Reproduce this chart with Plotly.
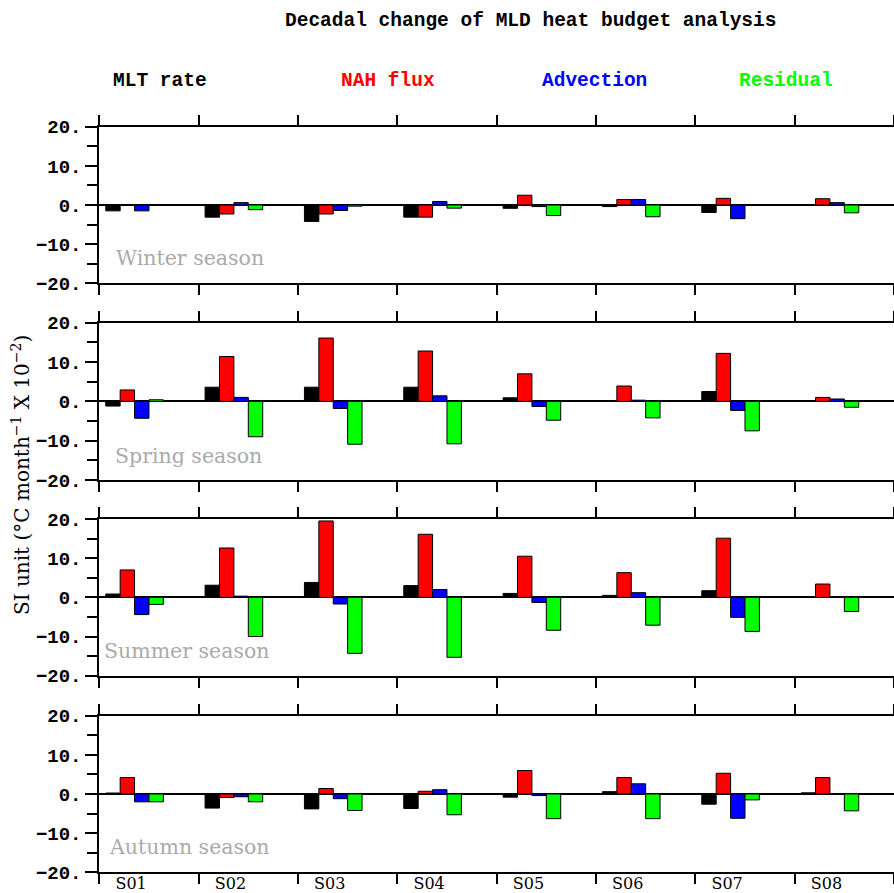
import numpy as np
import plotly.graph_objects as go

# ---------------- data ----------------
stations = ["S01", "S02", "S03", "S04", "S05", "S06", "S07", "S08"]
series_names = ["MLT rate", "NAH flux", "Advection", "Residual"]
series_colors = ["#000000", "#ff0000", "#0000ff", "#00ff00"]
seasons = ["Winter season", "Spring season", "Summer season", "Autumn season"]

winter_mlt = [-1.5, -3.1, -4.2, -3.1, -0.85, -0.4, -1.9, 0.0]
winter_nah = [0.0, -2.3, -2.3, -3.1, 2.5, 1.4, 1.7, 1.6]
winter_adv = [-1.5, 0.6, -1.4, 0.9, -0.4, 1.4, -3.5, 0.6]
winter_res = [0.0, -1.2, -0.3, -0.8, -2.7, -3.0, 0.0, -2.0]

spring_mlt = [-1.2, 3.6, 3.6, 3.6, 0.9, 0.1, 2.5, 0.0]
spring_nah = [2.9, 11.4, 16.1, 12.8, 7.0, 3.9, 12.2, 1.0]
spring_adv = [-4.3, 1.0, -1.8, 1.4, -1.3, 0.3, -2.3, 0.6]
spring_res = [0.4, -9.0, -10.9, -10.8, -4.8, -4.2, -7.5, -1.5]

summer_mlt = [0.85, 3.1, 3.8, 3.0, 1.0, 0.5, 1.7, 0.2]
summer_nah = [7.0, 12.6, 19.5, 16.1, 10.5, 6.3, 15.1, 3.4]
summer_adv = [-4.4, 0.3, -1.7, 2.0, -1.3, 1.2, -5.1, 0.1]
summer_res = [-1.8, -10.0, -14.3, -15.3, -8.4, -7.1, -8.7, -3.6]

autumn_mlt = [0.25, -3.6, -3.8, -3.7, -0.8, 0.6, -2.6, 0.3]
autumn_nah = [4.2, -0.9, 1.4, 0.7, 6.0, 4.2, 5.3, 4.2]
autumn_adv = [-2.0, -0.7, -1.2, 1.1, -0.4, 2.6, -6.2, 0.1]
autumn_res = [-2.0, -2.0, -4.2, -5.3, -6.3, -6.3, -1.5, -4.3]

y_tickvals = [-20, -10, 0, 10, 20]
y_ticktext = ["\u221220.", "\u221210.", "0.", "10.", "20."]

panels = [
    [winter_mlt, winter_nah, winter_adv, winter_res],
    [spring_mlt, spring_nah, spring_adv, spring_res],
    [summer_mlt, summer_nah, summer_adv, summer_res],
    [autumn_mlt, autumn_nah, autumn_adv, autumn_res],
]

# ---------------- layout geometry ----------------
W, H = 894, 893
panel_px = [(126.7, 283.3), (322.7, 480.0), (519.0, 675.7), (715.7, 872.3)]
x_left = 99.3 / W
bar_w = 0.145
first_off = 0.065
label_off = 0.32
season_x = [0.15, 0.14, 0.03, 0.08]
season_y = [-13.5, -13.8, -13.8, -13.5]

xpos = np.arange(len(stations))

fig = go.Figure()
for p, vals in enumerate(panels):
    ax = "" if p == 0 else str(p + 1)
    for k, v in enumerate(vals):
        fig.add_trace(go.Bar(
            x=xpos, y=v, width=bar_w, offset=first_off + k * bar_w,
            marker=dict(color=series_colors[k], line=dict(color="black", width=1)),
            xaxis="x" + ax, yaxis="y" + ax, showlegend=False, name=series_names[k],
        ))

# dummy trace for station label axis
fig.add_trace(go.Scatter(x=[None], y=[None], xaxis="x5", yaxis="y4",
                         showlegend=False, hoverinfo="skip"))

tickfont = dict(family="Liberation Mono", size=19, color="black", weight="bold")
layout = dict(
    width=W, height=H, margin=dict(l=0, r=0, t=0, b=0, autoexpand=False),
    paper_bgcolor="white", plot_bgcolor="white",
    barmode="overlay", showlegend=False,
)
for p in range(4):
    ax = "" if p == 0 else str(p + 1)
    top, bot = panel_px[p]
    layout["xaxis" + ax] = dict(
        domain=[x_left, 1.0], range=[0, 8], anchor="y" + ax, automargin=False,
        tickmode="linear", tick0=0, dtick=1, showticklabels=False,
        ticks="outside", ticklen=10, tickwidth=2, tickcolor="black",
        showline=True, linewidth=2, linecolor="black", mirror="ticks",
        showgrid=False, zeroline=False, layer="above traces",
    )
    layout["yaxis" + ax] = dict(
        domain=[1 - bot / H, 1 - top / H], range=[-20, 20], anchor="x" + ax,
        automargin=False,
        tickmode="array", tickvals=y_tickvals, ticktext=y_ticktext,
        ticks="outside", ticklen=12, tickwidth=2, tickcolor="black",
        minor=dict(dtick=5, tick0=0, ticks="outside", ticklen=10, tickwidth=2,
                   tickcolor="black", showgrid=False),
        tickfont=tickfont,
        showline=True, linewidth=2, linecolor="black", mirror=False,
        showgrid=False, zeroline=True, zerolinecolor="black", zerolinewidth=2,
        layer="above traces",
    )
layout["xaxis5"] = dict(
    overlaying="x4", anchor="y4", side="bottom", range=[0, 8], automargin=False,
    tickmode="array", tickvals=list(xpos + label_off), ticktext=stations,
    ticks="", showline=False, showgrid=False, zeroline=False,
    tickfont=dict(family="DejaVu Serif", size=16, color="black"),
    ticklabelstandoff=0,
)
fig.update_layout(**layout)

annotations = []
# title
annotations.append(dict(
    text="Decadal change of MLD heat budget analysis", x=530 / W, y=1 - 21 / H,
    xref="paper", yref="paper", showarrow=False, xanchor="center", yanchor="middle",
    font=dict(family="Liberation Mono", size=19.5, color="black", weight="bold"),
))
header_x = [160, 388, 594, 786]
for k, name in enumerate(series_names):
    annotations.append(dict(
        text=name, x=header_x[k] / W, y=1 - 81 / H, xref="paper", yref="paper",
        showarrow=False, xanchor="center", yanchor="middle",
        font=dict(family="Liberation Mono", size=19.5, color=series_colors[k], weight="bold"),
    ))
for p, s in enumerate(seasons):
    ax = "" if p == 0 else str(p + 1)
    annotations.append(dict(
        text=s, x=season_x[p], y=season_y[p], xref="x" + ax, yref="y" + ax,
        showarrow=False, xanchor="left", yanchor="middle",
        font=dict(family="DejaVu Serif", size=20.5, color="#aaaaaa"),
    ))
annotations.append(dict(
    text="SI unit (\u00b0C month<sup>\u22121</sup> X 10<sup>\u22122</sup>)",
    x=21 / W, y=1 - 475 / H, xref="paper", yref="paper", textangle=-90,
    showarrow=False, xanchor="center", yanchor="middle",
    font=dict(family="DejaVu Serif", size=20, color="black"),
))
fig.update_layout(annotations=annotations)

fig.write_html("out.html")
